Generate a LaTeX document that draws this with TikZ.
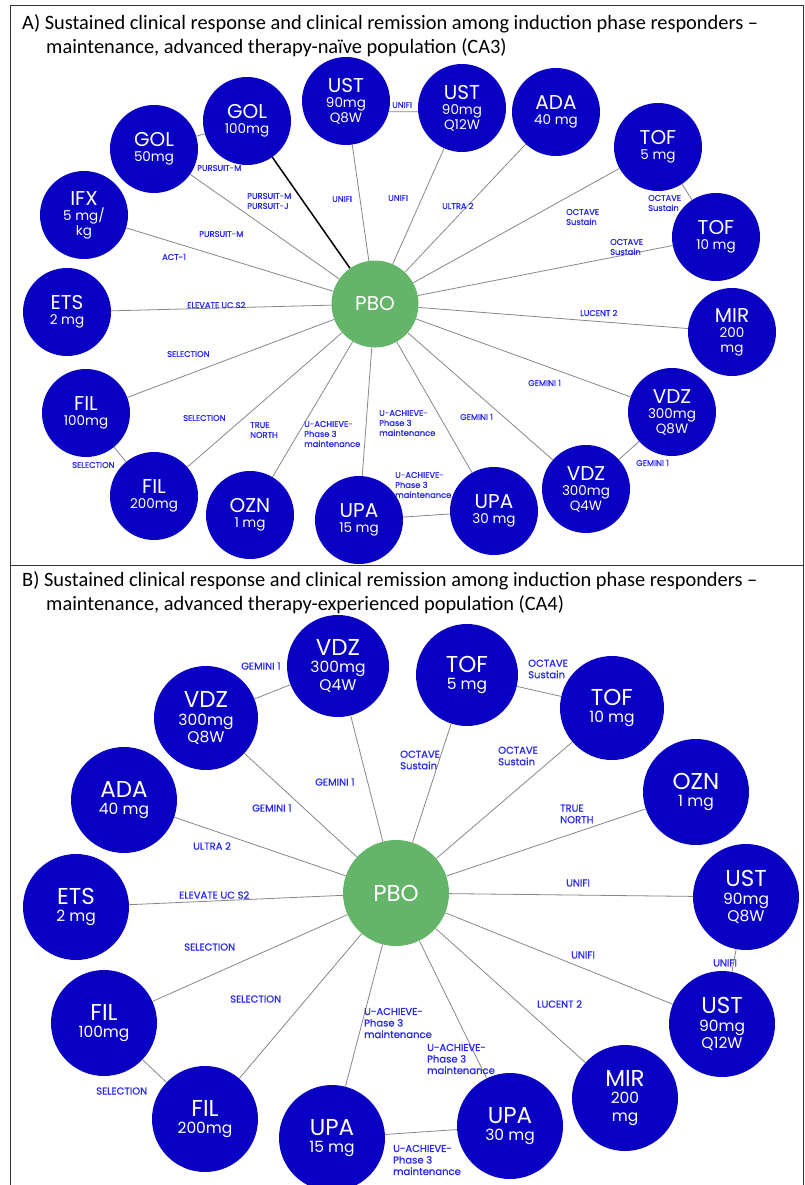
\documentclass[tikz,border=0pt]{standalone}
\usepackage{fontspec}
\setmainfont{Carlito}
\newfontfamily\pop{Poppins}
\newfontfamily\popl[FakeBold=0.8]{Poppins}
\definecolor{nodeblue}{RGB}{10,0,195}
\definecolor{pbogreen}{RGB}{100,180,105}
\definecolor{lblblue}{RGB}{40,40,240}
\definecolor{edgegray}{RGB}{135,135,135}
\newcommand\nmA[1]{{\fontsize{20}{20}\selectfont #1}}
\newcommand\nmB[1]{{\fontsize{23}{23}\selectfont #1}}
\tikzset{
  drugA/.style={circle, fill=nodeblue, text=white, minimum size=88pt, inner sep=0pt, align=center, font=\pop\fontsize{13.5}{15}\selectfont},
  drugB/.style={circle, fill=nodeblue, text=white, minimum size=106pt, inner sep=0pt, align=center, font=\pop\fontsize{15.5}{17.5}\selectfont},
  pboAst/.style={circle, fill=pbogreen, text=white, minimum size=87pt, inner sep=0pt, font=\pop\fontsize{20}{20}\selectfont},
  pboBst/.style={circle, fill=pbogreen, text=white, minimum size=106pt, inner sep=0pt, font=\pop\fontsize{23}{23}\selectfont},
  lblA/.style={anchor=west, text=lblblue, align=left, inner sep=0pt, font=\popl\fontsize{8.3}{10}\selectfont},
  lblB/.style={anchor=west, text=lblblue, align=left, inner sep=0pt, font=\popl\fontsize{10}{11.5}\selectfont},
  conn/.style={draw=edgegray, line width=0.8pt},
  titlest/.style={anchor=west, inner sep=0pt, font=\fontsize{20.4}{22}\selectfont},
}
\begin{document}
\begin{tikzpicture}[x=1pt,y=-1pt]
\useasboundingbox (0,0) rectangle (804,1185);
\fill[white] (0,0) rectangle (804,1185);
% frames
\draw[line width=1pt, black!80] (10,6) rectangle (803,565);
\draw[line width=1pt, black!80] (10,565) -- (10,1185);
\draw[line width=1pt, black!80] (803,565) -- (803,1185);
% titles
\node[titlest] (tA1) at (22,24) {A) Sustained clinical response and clinical remission among induction phase responders –};
\node[titlest] (tA2) at (46,48) {maintenance, advanced therapy-naïve population (CA3)};
\node[titlest] (tB1) at (22,581) {B) Sustained clinical response and clinical remission among induction phase responders –};
\node[titlest] (tB2) at (46,605) {maintenance, advanced therapy-experienced population (CA4)};

% ---------------- Panel A ----------------
\node[pboAst] (pboA) at (375,304) {PBO};
\node[drugA] (golA50) at (154,149) {\nmA{GOL}\\50mg};
\node[drugA] (golA100) at (247,121) {\nmA{GOL}\\100mg};
\node[drugA] (ustA8) at (346,101) {\nmA{UST}\\90mg\\Q8W};
\node[drugA] (ustA12) at (462,108) {\nmA{UST}\\90mg\\Q12W};
\node[drugA] (adaA) at (556,112) {\nmA{ADA}\\40 mg};
\node[drugA] (tofA5) at (658,147) {\nmA{TOF}\\5 mg};
\node[drugA] (tofA10) at (716,237) {\nmA{TOF}\\10 mg};
\node[drugA] (mirA) at (732,332) {\nmA{MIR}\\200\\mg};
\node[drugA] (vdzA8) at (672,412) {\nmA{VDZ}\\300mg\\Q8W};
\node[drugA] (vdzA4) at (586,489) {\nmA{VDZ}\\300mg\\Q4W};
\node[drugA] (upaA30) at (494,511) {\nmA{UPA}\\30 mg};
\node[drugA] (upaA15) at (359,520) {\nmA{UPA}\\15 mg};
\node[drugA] (oznA) at (250,515) {\nmA{OZN}\\1 mg};
\node[drugA] (filA200) at (154,496) {\nmA{FIL}\\200mg};
\node[drugA] (filA100) at (86,413) {\nmA{FIL}\\100mg};
\node[drugA] (etsA) at (67,312) {\nmA{ETS}\\2 mg};
\node[drugA] (ifxA) at (84,215) {\nmA{IFX}\\5 mg/\\kg};

\foreach \n in {golA50,ustA8,ustA12,adaA,tofA5,tofA10,mirA,vdzA8,vdzA4,upaA30,upaA15,oznA,filA200,filA100,etsA,ifxA}
  \draw[conn] (pboA) -- (\n);
\draw[line width=1.5pt, black] (pboA) -- (golA100);
\draw[conn] (golA50) -- (golA100);
\draw[conn] (ustA8.-14) -- (ustA12.185);
\draw[conn] (tofA5) -- (tofA10);
\draw[conn] (vdzA8) -- (vdzA4);
\draw[conn] (upaA15) -- (upaA30);
\draw[conn] (filA100) -- (filA200);

\node[lblA] (la1) at (197,168) {PURSUIT-M};
\node[lblA] (la2) at (247,201) {PURSUIT-M\\PURSUIT-J};
\node[lblA] (la3) at (199,234) {PURSUIT-M};
\node[lblA] (la4) at (162,257) {ACT-1};
\node[lblA] (la5) at (187,305) {ELEVATE UC S2};
\node[lblA] (la6) at (167,354) {SELECTION};
\node[lblA] (la7) at (183,418) {SELECTION};
\node[lblA] (la8) at (72,465) {SELECTION};
\node[lblA] (la9) at (250,430) {TRUE\\NORTH};
\node[lblA] (la10) at (304,434) {U-ACHIEVE-\\Phase 3\\maintenance};
\node[lblA] (la11) at (379,423) {U-ACHIEVE-\\Phase 3\\maintenance};
\node[lblA] (la12) at (395,485) {U-ACHIEVE-\\Phase 3\\maintenance};
\node[lblA] (la13) at (460,417) {GEMINI 1};
\node[lblA] (la14) at (528,383) {GEMINI 1};
\node[lblA] (la15) at (636,463) {GEMINI 1};
\node[lblA] (la16) at (580,313) {LUCENT 2};
\node[lblA] (la17) at (610,247) {OCTAVE\\Sustain};
\node[lblA] (la18) at (566,217) {OCTAVE\\Sustain};
\node[lblA] (la19) at (648,203) {OCTAVE\\Sustain};
\node[lblA] (la20) at (442,206) {ULTRA 2};
\node[lblA] (la21) at (388,198) {UNIFI};
\node[lblA] (la22) at (332,199) {UNIFI};
\node[lblA] (la23) at (392,105) {UNIFI};

% ---------------- Panel B ----------------
\node[pboBst] (pboB) at (396,893) {PBO};
\node[drugB, minimum size=102pt] (vdzB4) at (338,666) {\nmB{VDZ}\\300mg\\Q4W};
\node[drugB, minimum size=102pt] (tofB5) at (467,675) {\nmB{TOF}\\5 mg};
\node[drugB, minimum size=104pt] (tofB10) at (612,708) {\nmB{TOF}\\10 mg};
\node[drugB, minimum size=104pt] (vdzB8) at (206,718) {\nmB{VDZ}\\300mg\\Q8W};
\node[drugB] (adaB) at (124,800) {\nmB{ADA}\\40 mg};
\node[drugB] (etsB) at (76,907) {\nmB{ETS}\\2 mg};
\node[drugB] (filB100) at (104,1023) {\nmB{FIL}\\100mg};
\node[drugB] (filB200) at (205,1119) {\nmB{FIL}\\200mg};
\node[drugB] (upaB15) at (332,1138) {\nmB{UPA}\\15 mg};
\node[drugB] (upaB30) at (510,1126) {\nmB{UPA}\\30 mg};
\node[drugB] (mirB) at (625,1098) {\nmB{MIR}\\200\\mg};
\node[drugB] (ustB12) at (722,1024) {\nmB{UST}\\90mg\\Q12W};
\node[drugB] (ustB8) at (746,897) {\nmB{UST}\\90mg\\Q8W};
\node[drugB] (oznB) at (696,792) {\nmB{OZN}\\1 mg};

\foreach \n in {vdzB4,tofB5,tofB10,vdzB8,adaB,etsB,filB100,filB200,upaB15,upaB30,mirB,ustB12,ustB8,oznB}
  \draw[conn] (pboB) -- (\n);
\draw[conn] (vdzB8) -- (vdzB4);
\draw[conn] (tofB5) -- (tofB10);
\draw[conn] (ustB8) -- (ustB12);
\draw[conn] (upaB15) -- (upaB30);
\draw[conn] (filB100) -- (filB200);

\node[lblB] (lb1) at (241,666) {GEMINI 1};
\node[lblB] (lb2) at (528,669) {OCTAVE\\Sustain};
\node[lblB] (lb3) at (400,760) {OCTAVE\\Sustain};
\node[lblB] (lb4) at (498,756) {OCTAVE\\Sustain};
\node[lblB] (lb5) at (315,782) {GEMINI 1};
\node[lblB] (lb6) at (252,808) {GEMINI 1};
\node[lblB] (lb7) at (193,846) {ULTRA 2};
\node[lblB] (lb8) at (179,895) {ELEVATE UC S2};
\node[lblB] (lb9) at (184,947) {SELECTION};
\node[lblB] (lb10) at (230,999) {SELECTION};
\node[lblB] (lb11) at (96,1091) {SELECTION};
\node[lblB] (lb12) at (560,814) {TRUE\\NORTH};
\node[lblB] (lb13) at (566,883) {UNIFI};
\node[lblB] (lb14) at (571,955) {UNIFI};
\node[lblB] (lb15) at (713,963) {UNIFI};
\node[lblB] (lb16) at (537,1004) {LUCENT 2};
\node[lblB] (lb17) at (364,1023) {U-ACHIEVE-\\Phase 3\\maintenance};
\node[lblB] (lb18) at (427,1059) {U-ACHIEVE-\\Phase 3\\maintenance};
\node[lblB] (lb19) at (393,1160) {U-ACHIEVE-\\Phase 3\\maintenance};
\end{tikzpicture}
\end{document}
